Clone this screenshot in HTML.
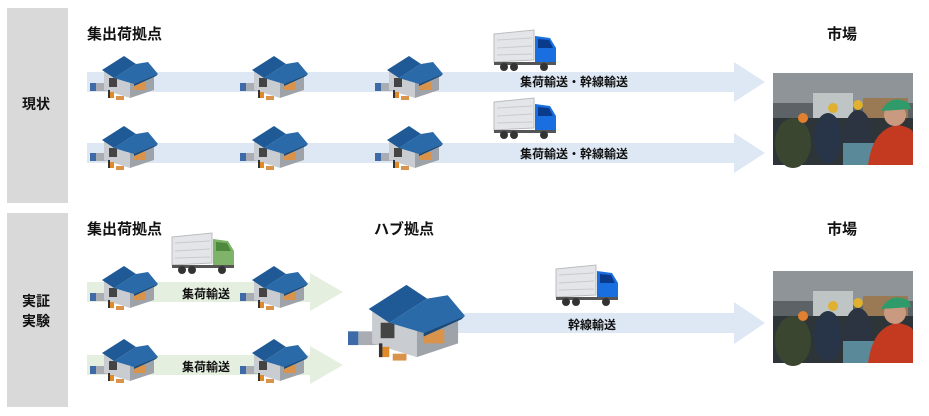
<!DOCTYPE html>
<html><head><meta charset="utf-8"><style>
body{margin:0;background:#fff;width:929px;height:416px;overflow:hidden;position:relative;font-family:"Liberation Sans","Noto Sans CJK JP",sans-serif;}
.t{position:absolute;font-weight:bold;color:#111;white-space:nowrap}
</style></head><body>
<svg width="929" height="416" style="position:absolute;left:0;top:0">
<defs>
<g id="wh">
 <!-- small truck -->
 <rect x="6" y="31" width="13" height="8" fill="#a9adb3" transform="skew(0,12)"/>
 <rect x="0" y="31" width="6" height="8" fill="#3e6aa8"/>
 <!-- building walls -->
 <polygon points="14,18 40,26 40,46 14,38" fill="#c9ccd0"/>
 <polygon points="40,26 64,18 64,38 40,46" fill="#9ea3a9"/>
 <rect x="19" y="26" width="8" height="9" fill="#444"/>
 <rect x="44" y="30" width="12" height="8" fill="#d9934a"/>
 <!-- roofs -->
 <polygon points="12,18 34,4 46,12 24,26" fill="#1f5a96"/>
 <polygon points="24,26 46,12 58,10 68,22 44,32" fill="#2a6aa8"/>
 <polygon points="44,32 68,22 66,24 44,34" fill="#184a7c"/>
 <!-- forklift & boxes -->
 <rect x="18" y="40" width="6" height="6" fill="#e08a2a"/>
 <rect x="18" y="38" width="2" height="8" fill="#333"/>
 <rect x="26" y="44" width="8" height="4" fill="#d9934a"/>
</g>
<g id="tr">
 <polygon points="0,4 40,0 40,30 0,32" fill="#e3e5e8" stroke="#b9bcc0" stroke-width="1"/>
 <line x1="3" y1="10" x2="38" y2="8" stroke="#c8cbcf"/><line x1="3" y1="18" x2="38" y2="16" stroke="#c8cbcf"/><line x1="3" y1="25" x2="38" y2="24" stroke="#c8cbcf"/>
 <polygon points="41,6 56,8 62,18 62,34 41,34" fill="var(--c)"/>
 <polygon points="44,9 55,10 59,18 44,18" fill="var(--w)"/>
 <rect x="0" y="32" width="62" height="3" fill="#555"/>
 <circle cx="10" cy="37" r="4" fill="#333"/><circle cx="20" cy="37" r="4" fill="#333"/><circle cx="50" cy="37" r="4" fill="#333"/>
</g>
<g id="ph">
 <rect width="140" height="92" fill="#5c6266"/>
 <rect width="140" height="30" fill="#8e9498"/>
 <rect x="40" y="20" width="40" height="25" fill="#bfc4c4"/>
 <rect x="90" y="25" width="45" height="20" fill="#9a7a55"/>
 <rect x="0" y="45" width="140" height="47" fill="#2e3538"/>
 <ellipse cx="20" cy="70" rx="18" ry="25" fill="#3a4630"/>
 <ellipse cx="55" cy="65" rx="14" ry="25" fill="#283548"/>
 <ellipse cx="85" cy="62" rx="14" ry="25" fill="#2b3440"/>
 <circle cx="60" cy="35" r="5" fill="#e0b030"/><circle cx="85" cy="32" r="5" fill="#e0b030"/><circle cx="30" cy="45" r="5" fill="#e08030"/>
 <rect x="70" y="70" width="40" height="22" fill="#5a8a9a"/>
 <path d="M95 92 Q100 55 125 52 Q140 55 140 60 L140 92Z" fill="#c43a20"/>
 <circle cx="122" cy="42" r="11" fill="#c99a80"/>
 <path d="M108 38 Q118 20 136 30 L138 36 Z" fill="#2f9a6a"/>
</g>
</defs>
<rect x="7" y="8" width="61" height="195" fill="#d9d9d9"/>
<rect x="7" y="213" width="61" height="194" fill="#d9d9d9"/>
<!-- top arrows -->
<polygon points="87,72 734,72 734,62 765,82 734,102 734,92 87,92" fill="#dde8f4"/>
<polygon points="87,143 734,143 734,133 765,153 734,173 734,163 87,163" fill="#dde8f4"/>
<!-- green arrows -->
<polygon points="87,282 310,282 310,273 343,292 310,311 310,302 87,302" fill="#e4efdf"/>
<polygon points="87,355 310,355 310,346 343,365 310,384 310,375 87,375" fill="#e4efdf"/>
<!-- hub arrow -->
<polygon points="440,313 734,313 734,302 765,323 734,344 734,333 440,333" fill="#dde8f4"/>
<use href="#wh" x="90" y="52"/><use href="#wh" x="240" y="52"/><use href="#wh" x="375" y="52"/>
<use href="#wh" x="90" y="122"/><use href="#wh" x="240" y="122"/><use href="#wh" x="375" y="122"/>
<use href="#wh" x="90" y="262"/><use href="#wh" x="240" y="262"/>
<use href="#wh" x="90" y="335"/><use href="#wh" x="240" y="335"/>
<use href="#wh" transform="translate(348,278) scale(1.72)"/>
<use href="#tr" x="494" y="30" style="--c:#1a6fe0;--w:#0a3a8a"/>
<use href="#tr" x="494" y="98" style="--c:#1a6fe0;--w:#0a3a8a"/>
<use href="#tr" x="556" y="265" style="--c:#1a6fe0;--w:#0a3a8a"/>
<use href="#tr" x="172" y="233" style="--c:#7fb36a;--w:#4f8a3c"/>
<use href="#ph" x="773" y="73"/>
<use href="#ph" x="773" y="271"/>
</svg>
<div class="t" style="left:22px;top:94px;font-size:14px">現状</div>
<div class="t" style="left:22px;top:291px;font-size:14px;line-height:20px">実証<br>実験</div>
<div class="t" style="left:87px;top:23px;font-size:15px">集出荷拠点</div>
<div class="t" style="left:827px;top:23px;font-size:15px">市場</div>
<div class="t" style="left:87px;top:218px;font-size:15px">集出荷拠点</div>
<div class="t" style="left:374px;top:218px;font-size:15px">ハブ拠点</div>
<div class="t" style="left:827px;top:218px;font-size:15px">市場</div>
<div class="t" style="left:520px;top:73px;font-size:12px">集荷輸送・幹線輸送</div>
<div class="t" style="left:520px;top:145px;font-size:12px">集荷輸送・幹線輸送</div>
<div class="t" style="left:182px;top:285px;font-size:12px">集荷輸送</div>
<div class="t" style="left:182px;top:358px;font-size:12px">集荷輸送</div>
<div class="t" style="left:568px;top:316px;font-size:12px">幹線輸送</div>
</body></html>
